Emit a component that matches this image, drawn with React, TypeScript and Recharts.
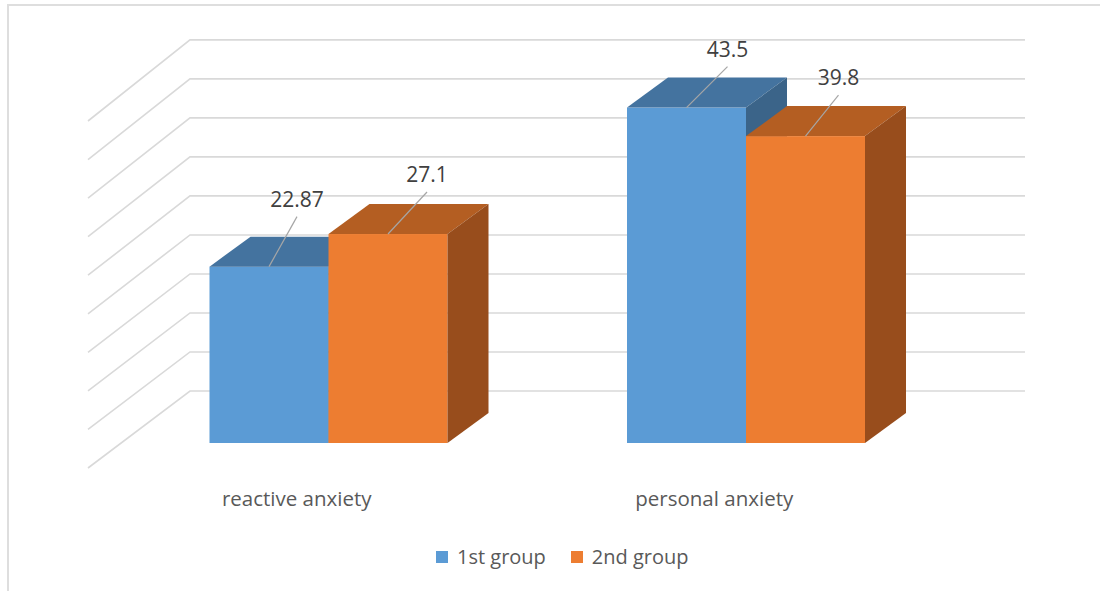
import React from 'react';
import { BarChart, Bar, XAxis, YAxis, CartesianGrid, LabelList, Legend } from 'recharts';

const categories = ['reactive anxiety', 'personal anxiety'];
const group1 = [22.87, 43.5];
const group2 = [27.1, 39.8];
const seriesNames = ['1st group', '2nd group'];
const yTicks = [0, 5, 10, 15, 20, 25, 30, 35, 40, 45];

const data = categories.map((c, i) => ({ category: c, g1: group1[i], g2: group2[i] }));

const FONT = '"Open Sans", "DejaVu Sans", sans-serif';
const W = 1100;
const H = 591;
const MARGIN = { top: 96, right: 145.5, left: 119.5, bottom: 118 };
const BAR_DEPTH = { dx: 41, dy: -30 };
const WALL_BACK = { dx: 70.5, dy: -52, stretch: 1.012 };
const WALL_FRONT = { dx: -31.5, dy: 25 };
const PLOT_BOTTOM = H - MARGIN.bottom - 30;

const palette = {
  g1: { front: '#5B9BD5', top: '#44739F', side: '#3B6489' },
  g2: { front: '#ED7D31', top: '#B45E22', side: '#984D1C' },
};

const leaderOffsets: Record<string, number[][]> = {
  g1: [[28, -50], [41, -41]],
  g2: [[39, -42], [33, -41]],
};

const makeShape = (key: 'g1' | 'g2') => (props: any) => {
  const { x, y, width, height } = props;
  const c = palette[key];
  const { dx, dy } = BAR_DEPTH;
  return (
    <g>
      <rect x={x} y={y} width={width} height={height} fill={c.front} />
      <polygon
        points={`${x},${y} ${x + dx},${y + dy} ${x + width + dx},${y + dy} ${x + width},${y}`}
        fill={c.top}
      />
      <polygon
        points={`${x + width},${y} ${x + width + dx},${y + dy} ${x + width + dx},${y + height + dy} ${x + width},${y + height}`}
        fill={c.side}
      />
    </g>
  );
};

const makeLabel = (key: 'g1' | 'g2') => (props: any) => {
  const { x, y, width, value, index } = props;
  const off = leaderOffsets[key][index] || [35, -42];
  const sx = x + width / 2;
  const sy = y;
  const ex = sx + off[0];
  const ey = sy + off[1];
  return (
    <g>
      <line x1={sx} y1={sy} x2={ex} y2={ey} stroke="#A6A6A6" strokeWidth={1.2} />
      <text x={ex} y={ey - 10} textAnchor="middle" fontFamily={FONT} fontSize={21} fill="#404040">
        {value}
      </text>
    </g>
  );
};

const gridLine = (props: any) => {
  const { x1, x2, y1 } = props;
  const bx1 = x1 + WALL_BACK.dx;
  const bx2 = x2 + WALL_BACK.dx;
  const by = PLOT_BOTTOM + WALL_BACK.dy + (y1 - PLOT_BOTTOM) * WALL_BACK.stretch;
  const fx = x1 + WALL_FRONT.dx;
  const fy = y1 + WALL_FRONT.dy;
  return (
    <polyline
      key={`grid-${y1}`}
      points={`${fx},${fy} ${bx1},${by} ${bx2},${by}`}
      fill="none"
      stroke="#D9D9D9"
      strokeWidth={1.6}
    />
  );
};

const EmptyTick = () => <g />;

const CategoryTick = (props: any) => {
  const { x, y, payload } = props;
  return (
    <text x={x + WALL_FRONT.dx} y={y + 63} textAnchor="middle" fontFamily={FONT} fontSize={20.5} fill="#595959">
      {payload.value}
    </text>
  );
};

const LegendContent = () => (
  <div style={{ display: 'flex', alignItems: 'center', fontFamily: FONT, fontSize: 20, lineHeight: '24px', color: '#595959', whiteSpace: 'nowrap' }}>
    {(['g1', 'g2'] as const).map((k, i) => (
      <div key={k} style={{ display: 'flex', alignItems: 'center', marginRight: i === 0 ? 25 : 0 }}>
        <span style={{ display: 'inline-block', width: 12, height: 12, background: palette[k].front, marginRight: 9 }} />
        <span>{seriesNames[i]}</span>
      </div>
    ))}
  </div>
);

export default function App() {
  return (
    <div style={{ position: 'absolute', left: 0, top: 0, width: W, height: H, background: '#fff', overflow: 'hidden' }}>
      <div style={{ position: 'absolute', left: 7, top: 4, width: 1120, height: 620, border: '2px solid #DEDEDE', boxSizing: 'border-box' }} />
      <div style={{ position: 'absolute', left: 0, top: 0 }}>
        <BarChart width={W} height={H} data={data} margin={MARGIN} barGap={0} barSize={119}>
          <CartesianGrid vertical={false} horizontal={gridLine} />
          <XAxis dataKey="category" axisLine={false} tickLine={false} tickSize={0} tickMargin={0} height={30} tick={<CategoryTick />} interval={0} />
          <YAxis type="number" domain={[0, 45]} ticks={yTicks} interval={0} width={0} axisLine={false} tickLine={false} tick={<EmptyTick />} />
          <Legend
            verticalAlign="middle"
            align="center"
            layout="horizontal"
            wrapperStyle={{ left: 436, top: 545, width: 300 }}
            content={<LegendContent />}
          />
          <Bar dataKey="g1" name={seriesNames[0]} fill={palette.g1.front} shape={makeShape('g1')} isAnimationActive={false}>
            <LabelList dataKey="g1" content={makeLabel('g1')} />
          </Bar>
          <Bar dataKey="g2" name={seriesNames[1]} fill={palette.g2.front} shape={makeShape('g2')} isAnimationActive={false}>
            <LabelList dataKey="g2" content={makeLabel('g2')} />
          </Bar>
        </BarChart>
      </div>
    </div>
  );
}
